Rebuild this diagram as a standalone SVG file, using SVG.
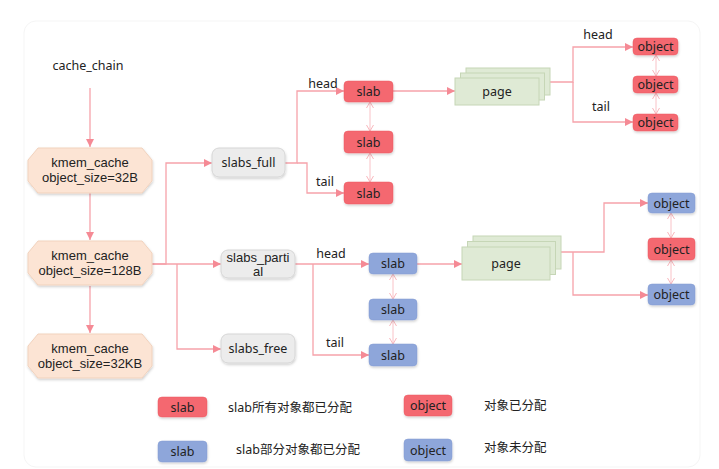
<svg xmlns="http://www.w3.org/2000/svg" width="719" height="469" viewBox="0 0 719 469">
<defs>
<marker id="ah" markerUnits="userSpaceOnUse" markerWidth="9" markerHeight="9" refX="8" refY="4.5" orient="auto">
<path d="M0,0.5 L8,4.5 L0,8.5 Z" fill="#f58a95"/>
</marker>
<marker id="bi" markerUnits="userSpaceOnUse" markerWidth="10" markerHeight="10" refX="8" refY="5" orient="auto-start-reverse">
<path d="M2,1.5 L8,5 L2,8.5" fill="none" stroke="#f9b7bd" stroke-width="1"/>
</marker>
<filter id="sh" x="-20%" y="-20%" width="140%" height="150%">
<feDropShadow dx="0.5" dy="1.5" stdDeviation="1.2" flood-color="#000" flood-opacity="0.18"/>
</filter>
</defs>
<style>
text{font-family:"Noto Sans","Noto Sans CJK SC",sans-serif;font-size:12.5px;fill:#222;}
.c{text-anchor:middle;}
.t2{font-family:"Liberation Sans",Arial,sans-serif;font-size:13px;}
.oct{fill:#fce4d4;stroke:#f1d2bd;stroke-width:1;filter:url(#sh);}
.gray{fill:#ececec;stroke:#d6d6d6;stroke-width:1;filter:url(#sh);}
.red{fill:#f4676f;stroke:#ec5d65;stroke-width:0.5;filter:url(#sh);}
.blue{fill:#8ea6da;stroke:#829bd2;stroke-width:0.5;filter:url(#sh);}
.page{fill:#dfead5;stroke:#c6d6b6;stroke-width:1;}
.ln{fill:none;stroke:#f6a2aa;stroke-width:1.3;}
.lnb{fill:none;stroke:#f9c2c7;stroke-width:1;}
</style>
<rect x="0" y="0" width="719" height="469" fill="#fff"/>
<rect x="24" y="21" width="676" height="446" rx="12" fill="none" stroke="#f5f5f5" stroke-width="1"/>

<g id="connectors">
<path class="ln" d="M90,88 V147" marker-end="url(#ah)"/>
<path class="ln" d="M90,193 V240" marker-end="url(#ah)"/>
<path class="ln" d="M90,286 V333" marker-end="url(#ah)"/>
<path class="ln" d="M152,264 H166 V163 H212" marker-end="url(#ah)"/>
<path class="ln" d="M152,264 H221" marker-end="url(#ah)"/>
<path class="ln" d="M177,264 V349 H221" marker-end="url(#ah)"/>
<path class="ln" d="M285,163 H297 V91 H344" marker-end="url(#ah)"/>
<path class="ln" d="M297,163 H307 V193 H344" marker-end="url(#ah)"/>
<path class="ln" d="M393,91 H455" marker-end="url(#ah)"/>
<path class="ln" d="M550,82 H573 V47 H633" marker-end="url(#ah)"/>
<path class="ln" d="M573,82 V122 H633" marker-end="url(#ah)"/>
<path class="ln" d="M295,264 H369" marker-end="url(#ah)"/>
<path class="ln" d="M313,264 V355 H369" marker-end="url(#ah)"/>
<path class="ln" d="M417,264 H462" marker-end="url(#ah)"/>
<path class="ln" d="M561,252 H604 V203 H648" marker-end="url(#ah)"/>
<path class="ln" d="M573,252 V295 H648" marker-end="url(#ah)"/>
<path class="lnb" d="M370,102 V131" marker-start="url(#bi)" marker-end="url(#bi)"/>
<path class="lnb" d="M370,153 V182" marker-start="url(#bi)" marker-end="url(#bi)"/>
<path class="lnb" d="M656,55 V76" marker-start="url(#bi)" marker-end="url(#bi)"/>
<path class="lnb" d="M656,93 V114" marker-start="url(#bi)" marker-end="url(#bi)"/>
<path class="lnb" d="M393,274 V299" marker-start="url(#bi)" marker-end="url(#bi)"/>
<path class="lnb" d="M393,320 V344" marker-start="url(#bi)" marker-end="url(#bi)"/>
<path class="lnb" d="M671,213 V238" marker-start="url(#bi)" marker-end="url(#bi)"/>
<path class="lnb" d="M671,260 V284" marker-start="url(#bi)" marker-end="url(#bi)"/>
<text x="323" y="88" class="c">head</text>
<text x="325" y="186" class="c">tail</text>
<text x="598" y="39" class="c">head</text>
<text x="601" y="111" class="c">tail</text>
<text x="331" y="258" class="c">head</text>
<text x="335" y="347" class="c">tail</text>
</g>

<g id="cache_chain"><text x="88" y="70" class="c">cache_chain</text></g>

<g id="kmem1">
<path class="oct" d="M38,148 H142 L152,160 V181 L142,193 H38 L28,181 V160 Z"/>
<text x="90" y="167" class="c t2">kmem_cache</text>
<text x="90" y="182" class="c t2">object_size=32B</text>
</g>
<g id="kmem2">
<path class="oct" d="M38,241 H142 L152,253 V273 L142,285 H38 L28,273 V253 Z"/>
<text x="90" y="260" class="c t2">kmem_cache</text>
<text x="90" y="275" class="c t2">object_size=128B</text>
</g>
<g id="kmem3">
<path class="oct" d="M38,334 H142 L152,346 V366 L142,378 H38 L28,366 V346 Z"/>
<text x="90" y="353" class="c t2">kmem_cache</text>
<text x="90" y="368" class="c t2">object_size=32KB</text>
</g>

<g id="slabs_full"><rect class="gray" x="212" y="148" width="73" height="29" rx="7"/><text x="248.5" y="167" class="c">slabs_full</text></g>
<g id="slabs_partial"><rect class="gray" x="221" y="250" width="74" height="28" rx="7"/><text x="258" y="262" class="c t2">slabs_parti</text><text x="258" y="276" class="c t2">al</text></g>
<g id="slabs_free"><rect class="gray" x="221" y="334" width="74" height="29" rx="7"/><text x="258" y="353" class="c">slabs_free</text></g>

<g id="slab_r1"><rect class="red" x="344" y="81" width="49" height="21" rx="4"/><text x="368.5" y="96" class="c">slab</text></g>
<g id="slab_r2"><rect class="red" x="344" y="131" width="49" height="22" rx="4"/><text x="368.5" y="146.5" class="c">slab</text></g>
<g id="slab_r3"><rect class="red" x="344" y="182" width="49" height="22" rx="4"/><text x="368.5" y="197.5" class="c">slab</text></g>

<g id="page1">
<rect class="page" x="466" y="68" width="84" height="27"/>
<rect class="page" x="460.5" y="73" width="84" height="27"/>
<rect class="page" x="455" y="78" width="84" height="27"/>
<text x="497" y="96" class="c">page</text>
</g>

<g id="obj_r1"><rect class="red" x="633" y="38" width="45" height="17" rx="4"/><text x="655.5" y="51" class="c">object</text></g>
<g id="obj_r2"><rect class="red" x="633" y="76" width="45" height="17" rx="4"/><text x="655.5" y="89" class="c">object</text></g>
<g id="obj_r3"><rect class="red" x="633" y="114" width="45" height="17" rx="4"/><text x="655.5" y="127" class="c">object</text></g>

<g id="slab_b1"><rect class="blue" x="369" y="253" width="48" height="21" rx="4"/><text x="393" y="268" class="c">slab</text></g>
<g id="slab_b2"><rect class="blue" x="369" y="299" width="48" height="21" rx="4"/><text x="393" y="314" class="c">slab</text></g>
<g id="slab_b3"><rect class="blue" x="369" y="344" width="48" height="22" rx="4"/><text x="393" y="359.5" class="c">slab</text></g>

<g id="page2">
<rect class="page" x="473" y="236" width="88" height="33"/>
<rect class="page" x="467.5" y="241.5" width="88" height="33"/>
<rect class="page" x="462" y="247" width="88" height="33"/>
<text x="506" y="268" class="c">page</text>
</g>

<g id="obj_b1"><rect class="blue" x="648" y="193" width="47" height="20" rx="4"/><text x="671.5" y="207.5" class="c">object</text></g>
<g id="obj_r4"><rect class="red" x="648" y="238" width="47" height="22" rx="4"/><text x="671.5" y="253.5" class="c">object</text></g>
<g id="obj_b2"><rect class="blue" x="648" y="284" width="47" height="21" rx="4"/><text x="671.5" y="299" class="c">object</text></g>

<g id="legend">
<rect class="red" x="158" y="397" width="49" height="20" rx="4"/><text x="182.5" y="411.5" class="c">slab</text>
<text x="228" y="412">slab所有对象都已分配</text>
<rect class="red" x="404" y="395" width="48" height="21" rx="4"/><text x="428" y="410" class="c">object</text>
<text x="484" y="410">对象已分配</text>
<rect class="blue" x="158" y="441" width="49" height="21" rx="4"/><text x="182.5" y="456" class="c">slab</text>
<text x="236" y="454">slab部分对象都已分配</text>
<rect class="blue" x="404" y="439" width="48" height="22" rx="4"/><text x="428" y="454.5" class="c">object</text>
<text x="484" y="452">对象未分配</text>
</g>
</svg>
